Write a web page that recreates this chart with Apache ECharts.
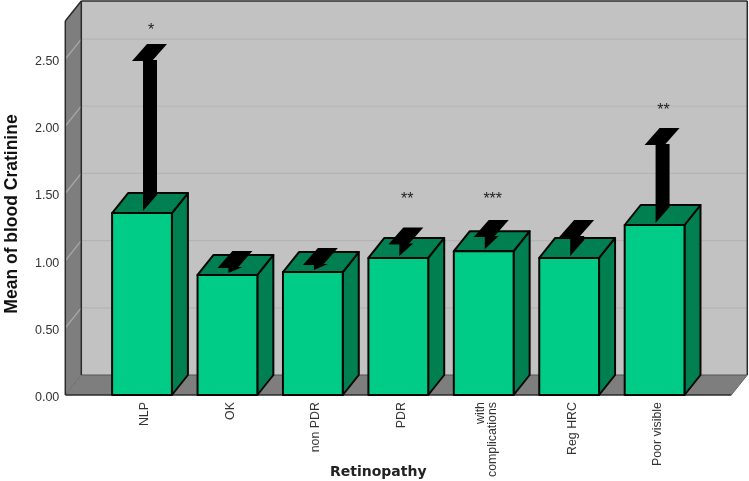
<!DOCTYPE html>
<html><head><meta charset="utf-8">
<style>html,body{margin:0;padding:0;background:#fff}#c{width:749px;height:481px;filter:blur(0.4px)}</style>
<script src="https://cdn.jsdelivr.net/npm/echarts@6/dist/echarts.min.js"></script>
</head><body><div id="c"></div>
<script>
const categories = ['NLP','OK','non PDR','PDR','with\ncomplications','Reg HRC','Poor visible'];
const meanValues = [1.354,0.893,0.915,1.02,1.07,1.02,1.265];
const upperValues = [2.485,0.945,0.967,1.12,1.175,1.175,1.86];
const starLevels = [2.71,null,null,1.455,1.455,null,2.12];
const starTexts = ['*','','','**','***','','**'];
const yTicks = [0,0.5,1,1.5,2,2.5];
const axisMax = 2.783;

const dx = 16, dy = 20, padL = 34, padR = 34;
const front = '#00CC88', dark = '#008050', ink = '#050505';
const poly = (points, fill, stroke, lw) => ({type:'polygon', shape:{points},
  style:{fill, stroke:stroke||null, lineWidth:lw||0, lineJoin:'round'}});
const line = (x1,y1,x2,y2,stroke,lw) => ({type:'line', shape:{x1,y1,x2,y2},
  style:{stroke, lineWidth:lw}});

function renderWalls(params, api){
  const cs = params.coordSys;
  const L = cs.x - padL, R = cs.x + cs.width + padR, B = cs.y + cs.height, T = cs.y;
  const kids = [
    poly([[L+dx,T-dy],[R+dx,T-dy],[R+dx,B-dy],[L+dx,B-dy]], '#C2C2C2'),
    poly([[L,T],[L+dx,T-dy],[L+dx,B-dy],[L,B]], '#7E7E7E'),
    poly([[L,B],[L+dx,B-dy],[R+dx,B-dy],[R,B]], '#7E7E7E')
  ];
  yTicks.slice(1).forEach(t => {
    const y = api.coord([0,t])[1];
    kids.push(line(L+dx,y-dy,R+dx,y-dy,'#B4B4B4',1.2));
    kids.push(line(L,y,L+dx,y-dy,'#ABABAB',1.2));
  });
  kids.push(line(L,B,L+dx,B-dy,'#6c6c6c',1));
  kids.push(line(L+dx,B-dy,R+dx,B-dy,'#555',1));
  kids.push(line(R,B,R+dx,B-dy,'#666',1));
  kids.push(line(L+dx,T-dy,R+dx,T-dy,'#2a2a2a',1.5));
  kids.push(line(R+dx,T-dy,R+dx,B-dy,'#2a2a2a',1.5));
  kids.push(line(L+dx,T-dy,L+dx,B-dy,'#2a2a2a',1.5));
  kids.push(line(L,T,L+dx,T-dy,'#2a2a2a',1.5));
  kids.push(line(L,T,L,B,'#2a2a2a',1.5));
  kids.push(line(L,B,R,B,'#2a2a2a',1.5));
  return {type:'group', children:kids};
}

function renderBar(params, api){
  const i = api.value(0), v = api.value(1), up = api.value(2);
  const [cx, y0] = api.coord([i,0]);
  const yt = api.coord([i,v])[1];
  const yu = api.coord([i,up])[1];
  const w = api.size([1,0])[0] * 0.7;
  const l = cx - w/2, r = cx + w/2;
  const midY = yt - dy/2, pl = cx + 1, pr = cx + 15;
  const kids = [
    poly([[r,y0],[r+dx,y0-dy],[r+dx,yt-dy],[r,yt]], dark, ink, 2),
    poly([[l,yt],[l+dx,yt-dy],[r+dx,yt-dy],[r,yt]], dark, ink, 2),
    poly([[l,y0],[r,y0],[r,yt],[l,yt]], front, ink, 2),
    poly([[pl,yu-1],[pr,yu-1],[pr,Math.max(yu-1,midY-8)],[pl,midY+8]], '#000'),
    poly([[cx-10,yu],[cx+10,yu],[cx+25,yu-17],[cx+5,yu-17]], '#000')
  ];
  const s = starTexts[i];
  if (s) {
    const sy = api.coord([i,starLevels[i]])[1];
    kids.push({type:'text', style:{x:cx+9, y:sy, text:s, align:'center', verticalAlign:'middle',
      fill:'#222', font:'16px "Liberation Sans"'}});
  }
  return {type:'group', children:kids};
}

const labelFont = {fontFamily:'Liberation Sans', fontSize:12.4, color:'#333', padding:[6,0,0,0]};
const chart = echarts.init(document.getElementById('c'), null, {renderer:'canvas'});
chart.setOption({
  animation:false,
  backgroundColor:'#fff',
  grid:{left:99.3, width:598, top:21, height:374, outerBoundsMode:'none', containLabel:false},
  xAxis:{type:'category', data:categories,
    axisLine:{show:false}, axisTick:{show:false},
    axisLabel:{interval:0, rotate:90, margin:7,
      formatter:v => { const p = v.split('\n'); const k = p.length > 1 ? 'b' : 'a';
        return p.map(t => '{'+k+'|'+t+'}').join('\n'); },
      rich:{a:{...labelFont, lineHeight:8}, b:{...labelFont, lineHeight:12}}},
    name:'Retinopathy', nameLocation:'middle', nameGap:77, nameMoveOverlap:false,
    nameTextStyle:{fontFamily:'DejaVu Sans', fontWeight:'bold', fontSize:14, color:'#222', padding:[0,40,0,0], verticalAlign:'middle'}},
  yAxis:{type:'value', min:0, max:axisMax, interval:0.5, offset:padL,
    axisLine:{show:false}, axisTick:{show:false}, splitLine:{show:false},
    axisLabel:{showMaxLabel:false, margin:6,
      formatter:v => '{a|'+v.toFixed(2)+'}',
      rich:{a:{fontFamily:'Liberation Sans', fontSize:12.5, color:'#333', padding:[5,0,0,0]}}},
    name:'Mean of blood Cratinine', nameLocation:'middle', nameGap:44, nameMoveOverlap:false,
    nameTextStyle:{fontFamily:'Liberation Sans', fontWeight:'bold', fontSize:17.5, color:'#111', padding:[0,12,0,0]}},
  series:[
    {type:'custom', z:1, silent:true, clip:false, renderItem:renderWalls, data:[[0,0]], encode:{x:0,y:1}},
    {type:'custom', z:2, silent:true, clip:false, renderItem:renderBar,
      data:categories.map((c,i)=>[i,meanValues[i],upperValues[i]]), encode:{x:0,y:1}}
  ]
});
</script></body></html>
